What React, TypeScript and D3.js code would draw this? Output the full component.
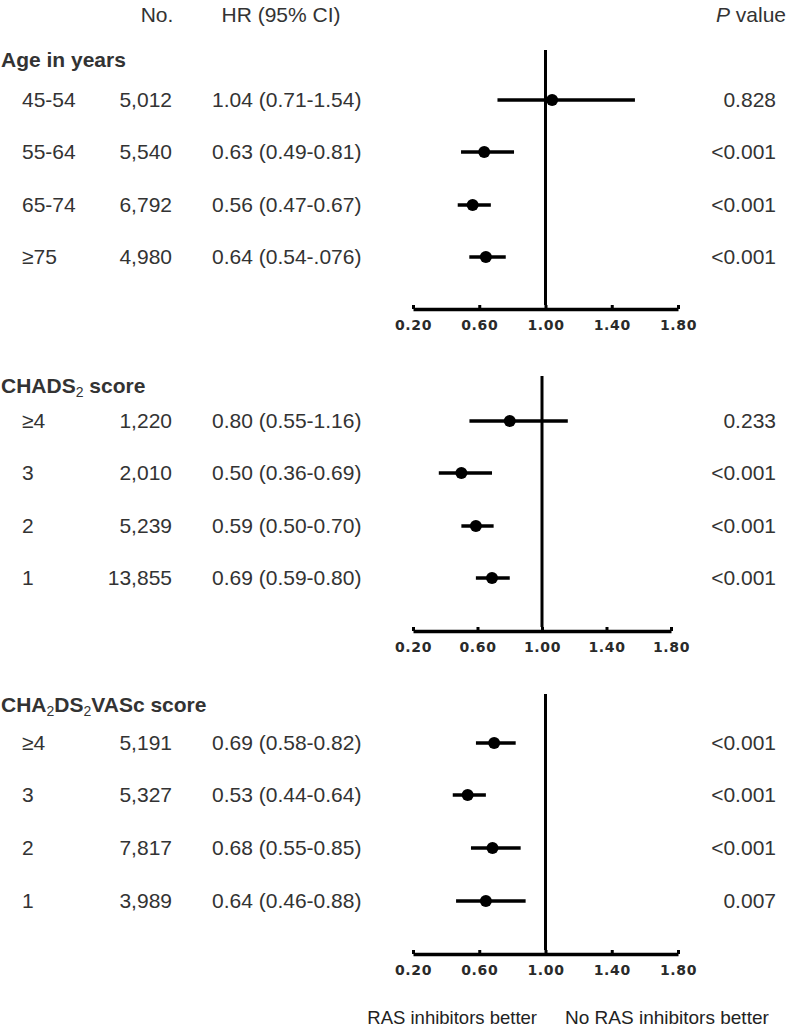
import React, { useEffect, useRef } from 'react';
import * as d3 from 'd3';

// Age in years
const ageLabels = ['45-54', '55-64', '65-74', '≥75'];
const ageN = ['5,012', '5,540', '6,792', '4,980'];
const ageHR = [1.04, 0.63, 0.56, 0.64];
const ageLo = [0.71, 0.49, 0.47, 0.54];
const ageHi = [1.54, 0.81, 0.67, 0.76];
const ageHRText = ['1.04 (0.71-1.54)', '0.63 (0.49-0.81)', '0.56 (0.47-0.67)', '0.64 (0.54-.076)'];
const ageP = ['0.828', '<0.001', '<0.001', '<0.001'];

// CHADS2 score
const chadsLabels = ['≥4', '3', '2', '1'];
const chadsN = ['1,220', '2,010', '5,239', '13,855'];
const chadsHR = [0.80, 0.50, 0.59, 0.69];
const chadsLo = [0.55, 0.36, 0.50, 0.59];
const chadsHi = [1.16, 0.69, 0.70, 0.80];
const chadsHRText = ['0.80 (0.55-1.16)', '0.50 (0.36-0.69)', '0.59 (0.50-0.70)', '0.69 (0.59-0.80)'];
const chadsP = ['0.233', '<0.001', '<0.001', '<0.001'];

// CHA2DS2VASc score
const vascLabels = ['≥4', '3', '2', '1'];
const vascN = ['5,191', '5,327', '7,817', '3,989'];
const vascHR = [0.69, 0.53, 0.68, 0.64];
const vascLo = [0.58, 0.44, 0.55, 0.46];
const vascHi = [0.82, 0.64, 0.85, 0.88];
const vascHRText = ['0.69 (0.58-0.82)', '0.53 (0.44-0.64)', '0.68 (0.55-0.85)', '0.64 (0.46-0.88)'];
const vascP = ['<0.001', '<0.001', '<0.001', '0.007'];

const tickValues = [0.2, 0.6, 1.0, 1.4, 1.8];

const FONT = 'Liberation Sans, Arial, sans-serif';
const TEXT = '#333';
const FS = 21;

const App: React.FC = () => {
  const svgRef = useRef<SVGSVGElement>(null);

  useEffect(() => {
    if (!svgRef.current) return;
    const svg = d3.select(svgRef.current);
    svg.selectAll('*').remove();

    const g = svg.append('g').attr('font-family', FONT);

    // column headers
    g.append('text').attr('x', 157).attr('y', 22).attr('text-anchor', 'middle')
      .attr('font-size', FS).attr('fill', TEXT).text('No.');
    g.append('text').attr('x', 281).attr('y', 22).attr('text-anchor', 'middle')
      .attr('font-size', FS).attr('fill', TEXT).text('HR (95% CI)');
    const pv = g.append('text').attr('x', 786).attr('y', 22).attr('text-anchor', 'end')
      .attr('font-size', FS).attr('fill', TEXT);
    pv.append('tspan').attr('font-style', 'italic').text('P');
    pv.append('tspan').text(' value');

    const panels = [
      {
        title: [['Age in years', false]], titleY: 67,
        labels: ageLabels, n: ageN, hr: ageHR, lo: ageLo, hi: ageHi, hrText: ageHRText, p: ageP,
        rowY: [100, 152, 205, 257], lineTop: 50, axisY: 309, x0: 413, x1: 678,
      },
      {
        title: [['CHADS', false], ['2', true], [' score', false]], titleY: 393,
        labels: chadsLabels, n: chadsN, hr: chadsHR, lo: chadsLo, hi: chadsHi, hrText: chadsHRText, p: chadsP,
        rowY: [421, 473, 526, 578], lineTop: 376, axisY: 631, x0: 413, x1: 671,
      },
      {
        title: [['CHA', false], ['2', true], ['DS', false], ['2', true], ['VASc score', false]], titleY: 712,
        labels: vascLabels, n: vascN, hr: vascHR, lo: vascLo, hi: vascHi, hrText: vascHRText, p: vascP,
        rowY: [743, 795, 848, 901], lineTop: 694, axisY: 954, x0: 413, x1: 678,
      },
    ];

    panels.forEach(pn => {
      const x = d3.scaleLinear().domain([0.2, 1.8]).range([pn.x0, pn.x1]);

      // section title with subscripts
      const t = g.append('text').attr('x', 1).attr('y', pn.titleY)
        .attr('font-size', FS).attr('font-weight', 'bold').attr('fill', TEXT);
      let prevSub = false;
      (pn.title as [string, boolean][]).forEach(([s, sub]) => {
        const dy = sub ? 4 : prevSub ? -4 : 0;
        const ts = t.append('tspan').attr('dy', dy).text(s);
        if (sub) ts.attr('font-size', 14).attr('font-weight', 'normal');
        prevSub = sub;
      });

      // row text
      pn.labels.forEach((lab, i) => {
        const yb = pn.rowY[i] + 7;
        g.append('text').attr('x', 22).attr('y', yb).attr('font-size', FS).attr('fill', TEXT).text(lab);
        g.append('text').attr('x', 172).attr('y', yb).attr('text-anchor', 'end')
          .attr('font-size', FS).attr('fill', TEXT).text(pn.n[i]);
        g.append('text').attr('x', 212).attr('y', yb).attr('font-size', FS).attr('fill', TEXT).text(pn.hrText[i]);
        g.append('text').attr('x', 776).attr('y', yb).attr('text-anchor', 'end')
          .attr('font-size', FS).attr('fill', TEXT).text(pn.p[i]);
      });

      // reference line at HR = 1
      g.append('line')
        .attr('x1', x(1)).attr('x2', x(1))
        .attr('y1', pn.lineTop).attr('y2', pn.axisY - 4)
        .attr('stroke', '#000').attr('stroke-width', 3);

      // CIs and points
      pn.hr.forEach((v, i) => {
        g.append('line')
          .attr('x1', x(pn.lo[i])).attr('x2', x(pn.hi[i]))
          .attr('y1', pn.rowY[i]).attr('y2', pn.rowY[i])
          .attr('stroke', '#000').attr('stroke-width', 3.5);
        g.append('circle').attr('cx', x(v)).attr('cy', pn.rowY[i]).attr('r', 6).attr('fill', '#000');
      });

      // x axis
      const axis = g.append('g')
        .attr('transform', `translate(0,${pn.axisY})`)
        .call(d3.axisBottom(x).tickValues(tickValues).tickFormat(d3.format('.2f'))
          .tickSizeInner(-4).tickSizeOuter(0).tickPadding(11));
      axis.select('.domain').attr('stroke', '#000').attr('stroke-width', 3.5);
      axis.selectAll('.tick line').attr('stroke', '#000').attr('stroke-width', 3);
      axis.selectAll('.tick text')
        .attr('font-family', 'DejaVu Sans, sans-serif')
        .attr('font-weight', 'bold').attr('font-size', 14)
        .attr('letter-spacing', 0.6)
        .attr('fill', '#2a2a2a').attr('dy', '0.71em');
    });

    // direction labels
    g.append('text').attr('x', 537).attr('y', 1024).attr('text-anchor', 'end')
      .attr('font-size', 18.5).attr('fill', '#222').text('RAS inhibitors better');
    g.append('text').attr('x', 565).attr('y', 1024)
      .attr('font-size', 19).attr('fill', '#222').text('No RAS inhibitors better');
  }, []);

  return (
    <svg ref={svgRef} width={787} height={1029}
      style={{ position: 'absolute', left: 0, top: 0, background: '#fff' }} />
  );
};

export default App;
